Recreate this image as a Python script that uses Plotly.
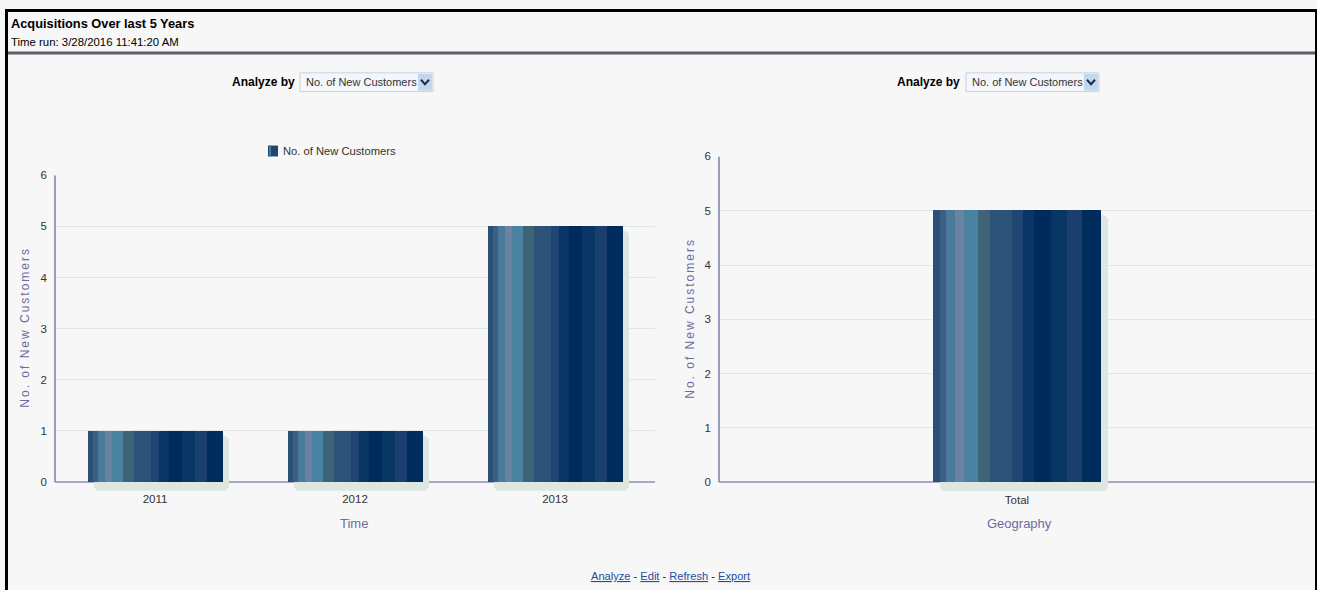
import plotly.graph_objects as go

W, H = 1317, 590

# ---------------- data ----------------
time_categories = ["2011", "2012", "2013"]
time_values = [1, 1, 5]
geo_categories = ["Total"]
geo_values = [5]
y_ticks = [0, 1, 2, 3, 4, 5, 6]
series_name = "No. of New Customers"

# ---------------- style ----------------
stripe_edges = [0, .039, .079, .128, .183, .266, .341, .473, .533, .602, .700, .799, .888, 1.0]
stripe_colors = ["#2a5078", "#3d5f84", "#4a7a9a", "#6b82a2", "#4a82a2", "#3f6478", "#2c5278",
                 "#1f4672", "#083564", "#002a5a", "#083664", "#1a3f6e", "#002d5e"]
shadow_color = "#dde7df"
grid_color = "#dfe9df"
axis_color = "#a9a9c6"
title_color = "#6e6a9e"
bg = "#f7f7f7"
SANS = "Liberation Sans, Arial, sans-serif"

def px(x):
    return x / W

def py(y):
    return 1 - y / H

fig = go.Figure()

def add_bars(cats, vals, xa, ya, bw, dx, dy):
    # shadow
    fig.add_trace(go.Bar(
        x=cats, y=[v - dy + 0.17 for v in vals], base=-0.17,
        width=bw, offset=-bw / 2 + dx, xaxis=xa, yaxis=ya,
        marker=dict(color=shadow_color, line=dict(width=0), cornerradius=6),
        showlegend=False, hoverinfo="skip"))
    for i, c in enumerate(stripe_colors):
        w = (stripe_edges[i + 1] - stripe_edges[i]) * bw
        fig.add_trace(go.Bar(
            x=cats, y=vals, width=w * 1.02, offset=-bw / 2 + stripe_edges[i] * bw,
            xaxis=xa, yaxis=ya, name=series_name,
            marker=dict(color=c, line=dict(width=0)),
            showlegend=False))

add_bars(time_categories, time_values, "x", "y", 0.675, 0.03, 0.08)
add_bars(geo_categories, geo_values, "x2", "y2", 0.281, 0.0117, 0.075)

# plot area geometry (pixels)
L = dict(x0=55, x1=655, ytop=171, ybot=481)
R = dict(x0=719, x1=1315, ytop=152, ybot=481)
ymin = -0.17

def ydomain(g):
    unit = (g["ybot"] - g["ytop"]) / 6.0
    bottom = g["ybot"] - ymin * unit
    return [py(bottom), py(g["ytop"])]

yax = dict(range=[ymin, 6], tickvals=y_ticks, showgrid=True, gridcolor=grid_color, gridwidth=1,
           zeroline=True, zerolinecolor=axis_color, zerolinewidth=2, showline=False,
           ticks="", ticklabelstandoff=7, tickfont=dict(family=SANS, size=11.5, color="#333333"),
           fixedrange=True)
xax = dict(showgrid=False, zeroline=False, showline=False, ticks="",
           tickfont=dict(family=SANS, size=11.5, color="#333333"), fixedrange=True)

fig.update_layout(
    width=W, height=H, margin=dict(l=0, r=0, t=0, b=0),
    paper_bgcolor=bg, plot_bgcolor=bg, barmode="overlay", bargap=0,
    showlegend=False,
    xaxis=dict(xax, domain=[px(L["x0"]), px(L["x1"])], anchor="y"),
    yaxis=dict(yax, domain=ydomain(L), anchor="x"),
    xaxis2=dict(xax, domain=[px(R["x0"]), px(R["x1"])], anchor="y2", range=[-0.5, 0.5]),
    yaxis2=dict(yax, domain=ydomain(R), anchor="x2"),
)

shapes = []
# y-axis lines (0..6)
shapes.append(dict(type="line", xref="x domain", yref="y", x0=0, x1=0, y0=0, y1=6,
                   line=dict(color="#7c7aa8", width=1.5)))
shapes.append(dict(type="line", xref="x2 domain", yref="y2", x0=0, x1=0, y0=0, y1=6,
                   line=dict(color="#7c7aa8", width=1.5)))
# page frame
shapes.append(dict(type="line", xref="paper", yref="paper", x0=px(5), x1=px(1317), y0=py(4.5), y1=py(4.5),
                   line=dict(color="#000000", width=3)))
shapes.append(dict(type="line", xref="paper", yref="paper", x0=px(6.5), x1=px(6.5), y0=py(3), y1=py(590),
                   line=dict(color="#000000", width=3)))
shapes.append(dict(type="line", xref="paper", yref="paper", x0=px(1316), x1=px(1316), y0=py(3), y1=py(590),
                   line=dict(color="#000000", width=2)))
# header separator
shapes.append(dict(type="line", xref="paper", yref="paper", x0=px(8), x1=px(1315), y0=py(47.5), y1=py(47.5),
                   line=dict(color="#a6a6ae", width=4)))
shapes.append(dict(type="line", xref="paper", yref="paper", x0=px(8), x1=px(1315), y0=py(47.5), y1=py(47.5),
                   line=dict(color="#5e5e68", width=2)))

annotations = []
# titles
annotations.append(dict(text="<b>Acquisitions Over last 5 Years</b>", x=px(9), y=py(18), xref="paper", yref="paper",
                        xanchor="left", yanchor="middle", showarrow=False,
                        font=dict(family=SANS, size=12.8, color="#000000")))
annotations.append(dict(text="Time run: 3/28/2016 11:41:20 AM", x=px(9), y=py(36), xref="paper", yref="paper",
                        xanchor="left", yanchor="middle", showarrow=False,
                        font=dict(family=SANS, size=11.4, color="#000000")))

# dropdowns
def dropdown(label_right, box_x0, box_x1):
    annotations.append(dict(text="<b>Analyze by</b>", x=px(label_right), y=py(77), xref="paper", yref="paper",
                            xanchor="right", yanchor="middle", showarrow=False,
                            font=dict(family=SANS, size=12, color="#000000")))
    shapes.append(dict(type="rect", xref="paper", yref="paper", x0=px(box_x0), x1=px(box_x1),
                       y0=py(86.5), y1=py(67.5), fillcolor="#f3f7fb", line=dict(color="#c9d2de", width=1)))
    shapes.append(dict(type="rect", xref="paper", yref="paper", x0=px(box_x1 - 15), x1=px(box_x1 - 1),
                       y0=py(85.5), y1=py(68.5), fillcolor="#c3d7ec", line=dict(width=0)))
    cx = box_x1 - 8
    path = "M {},{} L {},{} L {},{}".format(px(cx - 4), py(74.5), px(cx), py(79), px(cx + 4), py(74.5))
    shapes.append(dict(type="path", xref="paper", yref="paper", path=path,
                       line=dict(color="#1d2d4d", width=2)))
    annotations.append(dict(text=series_name, x=px(box_x0 + 4), y=py(77), xref="paper", yref="paper",
                            xanchor="left", yanchor="middle", showarrow=False,
                            font=dict(family=SANS, size=11, color="#333333")))

dropdown(297, 300, 433)
dropdown(962, 966, 1099)

# manual legend
shapes.append(dict(type="rect", xref="paper", yref="paper", x0=px(268), x1=px(278), y0=py(152), y1=py(141),
                   fillcolor="#1f4672", line=dict(width=0)))
shapes.append(dict(type="rect", xref="paper", yref="paper", x0=px(269), x1=px(271), y0=py(152), y1=py(141),
                   fillcolor="#4a7a9a", line=dict(width=0)))
annotations.append(dict(text=series_name, x=px(281), y=py(146.5), xref="paper", yref="paper",
                        xanchor="left", yanchor="middle", showarrow=False,
                        font=dict(family=SANS, size=11.2, color="#333333")))

# axis titles
ytitle = '<span style="letter-spacing:2px">No. of New Customers</span>'
annotations.append(dict(text=ytitle, x=px(25), y=py(325), xref="paper", yref="paper", textangle=-90,
                        xanchor="center", yanchor="middle", showarrow=False,
                        font=dict(family=SANS, size=12, color=title_color)))
annotations.append(dict(text=ytitle, x=px(690), y=py(316), xref="paper", yref="paper", textangle=-90,
                        xanchor="center", yanchor="middle", showarrow=False,
                        font=dict(family=SANS, size=12, color=title_color)))
annotations.append(dict(text="Time", x=px(354), y=py(523), xref="paper", yref="paper",
                        xanchor="center", yanchor="middle", showarrow=False,
                        font=dict(family=SANS, size=13, color=title_color)))
annotations.append(dict(text="Geography", x=px(1019), y=py(523), xref="paper", yref="paper",
                        xanchor="center", yanchor="middle", showarrow=False,
                        font=dict(family=SANS, size=13, color=title_color)))

# footer links
u = '<span style="text-decoration:underline;fill:#1f4e9a">{}</span>'
footer = " - ".join(u.format(t) for t in ["Analyze", "Edit", "Refresh", "Export"])
annotations.append(dict(text=footer, x=px(670), y=py(576), xref="paper", yref="paper",
                        xanchor="center", yanchor="middle", showarrow=False,
                        font=dict(family=SANS, size=11.1, color="#222222")))

fig.update_layout(shapes=shapes, annotations=annotations)
fig.write_html(
    "out.html",
    config={"displayModeBar": False},
    post_script=(
        "document.documentElement.style.margin='0';"
        "document.documentElement.style.overflow='hidden';"
        "document.body.style.margin='0';document.body.style.padding='0';"
        "document.body.style.overflow='hidden';"
        "document.body.style.background='#f7f7f7';"
        "var gd=document.getElementById('{plot_id}');"
        "gd.style.position='fixed';gd.style.top='0px';gd.style.left='0px';"
    ),
)
